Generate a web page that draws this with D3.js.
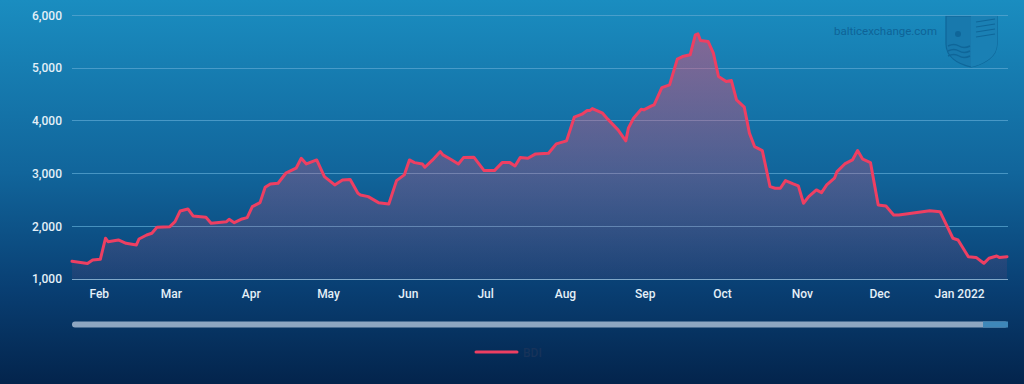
<!DOCTYPE html>
<html>
<head>
<meta charset="utf-8">
<script src="https://cdn.jsdelivr.net/npm/d3@7/dist/d3.min.js"></script>
<style>
  html, body { margin: 0; padding: 0; background: #04284f; }
  svg { display: block; }
</style>
</head>
<body>
<svg id="chart" width="1024" height="384"></svg>
<script>
// ---- Data ----
const dates = [
  "2021-01-22","2021-01-28","2021-01-30","2021-02-02","2021-02-04","2021-02-05","2021-02-09","2021-02-12",
  "2021-02-16","2021-02-17","2021-02-20","2021-02-22","2021-02-24","2021-03-01","2021-03-03","2021-03-05",
  "2021-03-08","2021-03-10","2021-03-15","2021-03-17","2021-03-23","2021-03-24","2021-03-26","2021-03-29",
  "2021-03-31","2021-04-02","2021-04-05","2021-04-07","2021-04-09","2021-04-12","2021-04-15","2021-04-19",
  "2021-04-21","2021-04-23","2021-04-27","2021-04-30","2021-05-04","2021-05-07","2021-05-10","2021-05-13",
  "2021-05-14","2021-05-17","2021-05-21","2021-05-25","2021-05-28","2021-05-31","2021-06-02","2021-06-04",
  "2021-06-07","2021-06-08","2021-06-11","2021-06-14","2021-06-15","2021-06-18","2021-06-21","2021-06-23",
  "2021-06-27","2021-07-01","2021-07-05","2021-07-08","2021-07-11","2021-07-13","2021-07-15","2021-07-18",
  "2021-07-21","2021-07-26","2021-07-29","2021-08-02","2021-08-05","2021-08-08","2021-08-10","2021-08-11",
  "2021-08-12","2021-08-16","2021-08-18","2021-08-22","2021-08-25","2021-08-26","2021-08-28","2021-08-31",
  "2021-09-01","2021-09-04","2021-09-05","2021-09-08","2021-09-11","2021-09-14","2021-09-16","2021-09-19",
  "2021-09-21","2021-09-22","2021-09-23","2021-09-26","2021-09-28","2021-09-30","2021-10-03","2021-10-05",
  "2021-10-07","2021-10-10","2021-10-12","2021-10-14","2021-10-17","2021-10-20","2021-10-22","2021-10-24",
  "2021-10-26","2021-10-29","2021-10-31","2021-11-02","2021-11-04","2021-11-07","2021-11-09","2021-11-11",
  "2021-11-14","2021-11-15","2021-11-18","2021-11-21","2021-11-23","2021-11-25","2021-11-28","2021-12-01",
  "2021-12-04","2021-12-07","2021-12-09","2021-12-21","2021-12-25","2021-12-30","2022-01-01","2022-01-05",
  "2022-01-08","2022-01-11","2022-01-13","2022-01-16","2022-01-17","2022-01-20"
];
const bdi = [
  1330,1290,1355,1368,1767,1702,1734,1672,
  1640,1753,1829,1861,1975,1987,2082,2285,
  2323,2190,2165,2051,2082,2127,2063,2133,
  2158,2366,2442,2734,2797,2810,3000,3095,
  3284,3176,3252,2935,2778,2873,2880,2620,
  2588,2556,2442,2417,2860,2968,3252,3201,
  3176,3113,3252,3410,3347,3266,3176,3296,
  3304,3050,3050,3201,3201,3138,3296,3284,
  3366,3379,3556,3613,4062,4119,4188,4188,
  4226,4138,4025,3822,3613,3854,4043,4214,
  4201,4277,4296,4624,4675,5163,5212,5245,
  5624,5643,5516,5497,5277,4833,4738,4757,
  4391,4252,3760,3505,3429,2746,2715,2715,
  2860,2797,2759,2430,2556,2683,2632,2778,
  2905,3030,3176,3252,3429,3266,3201,2398,
  2379,2209,2209,2290,2271,1767,1734,1417,
  1404,1292,1387,1431,1404,1417
];
const yTicks = [1000, 2000, 3000, 4000, 5000, 6000];
const monthTicks = ["2021-02-01","2021-03-01","2021-04-01","2021-05-01","2021-06-01","2021-07-01",
  "2021-08-01","2021-09-01","2021-10-01","2021-11-01","2021-12-01","2022-01-01"];
const monthLabels = ["Feb","Mar","Apr","May","Jun","Jul","Aug","Sep","Oct","Nov","Dec","Jan 2022"];
const seriesName = "BDI";
const domainStart = "2021-01-22";
const domainEnd = "2022-01-20";

// ---- Setup ----
const parse = d3.utcParse("%Y-%m-%d");
const data = dates.map((d, i) => ({ date: parse(d), value: bdi[i] }));

const W = 1024, H = 384;
const plot = { left: 72, right: 1007, top: 15, bottom: 278.7 };

const svg = d3.select("#chart");
const defs = svg.append("defs");

const bg = defs.append("linearGradient").attr("id", "bg").attr("x1", 0).attr("y1", 0).attr("x2", 0).attr("y2", 1);
bg.append("stop").attr("offset", "0%").attr("stop-color", "#1a8dc0");
bg.append("stop").attr("offset", "45%").attr("stop-color", "#11659b");
bg.append("stop").attr("offset", "75%").attr("stop-color", "#093f73");
bg.append("stop").attr("offset", "100%").attr("stop-color", "#03244c");

const x = d3.scaleUtc().domain([parse(domainStart), parse(domainEnd)]).range([plot.left, plot.right]);
const y = d3.scaleLinear().domain([1000, 6000]).range([plot.bottom, plot.top]);

const areaGrad = defs.append("linearGradient").attr("id", "areaGrad")
  .attr("gradientUnits", "userSpaceOnUse")
  .attr("x1", 0).attr("x2", 0).attr("y1", y(5700)).attr("y2", y(1000));
areaGrad.append("stop").attr("offset", "0%").attr("stop-color", "#f04a72").attr("stop-opacity", 0.5);
areaGrad.append("stop").attr("offset", "100%").attr("stop-color", "#f04a72").attr("stop-opacity", 0.08);

svg.append("rect").attr("width", W).attr("height", H).attr("fill", "url(#bg)");

// Watermark
const wm = svg.append("g").attr("class", "watermark");
wm.append("text").attr("x", 937).attr("y", 35).attr("text-anchor", "end")
  .attr("font-family", "Roboto, 'Open Sans', sans-serif").attr("font-size", 11.5)
  .attr("fill", "#0d5f93").attr("fill-opacity", 0.9).text("balticexchange.com");
wm.append("path")
  .attr("d", "M946,16 L997,16 L997,44 C997,57 984,64 971,67 C958,64 946,57 946,44 Z")
  .attr("fill", "#1879ad").attr("stroke", "#0f6699").attr("stroke-width", 1.2);
wm.append("path")
  .attr("d", "M971,16 L971,67 C984,64 997,57 997,44 L997,16 Z")
  .attr("fill", "#1a80b4");
[46, 51, 56].forEach(yy => {
  wm.append("path").attr("d", `M948,${yy} q6,-3 11,0 t11,0`).attr("fill", "none")
    .attr("stroke", "#0f6699").attr("stroke-width", 1.4);
});
[22, 27, 32, 37].forEach(yy => {
  wm.append("line").attr("x1", 976).attr("x2", 995).attr("y1", yy).attr("y2", yy - 3)
    .attr("stroke", "#0f6699").attr("stroke-width", 1.2);
});
wm.append("circle").attr("cx", 958).attr("cy", 34).attr("r", 3).attr("fill", "#0f6699");

// Grid
svg.append("g").selectAll("line").data(yTicks).join("line")
  .attr("x1", plot.left).attr("x2", plot.right + 1)
  .attr("y1", d => Math.round(y(d)) + 0.5).attr("y2", d => Math.round(y(d)) + 0.5)
  .attr("stroke", d => d === 1000 ? "#8eb3d1" : "#5aa6d0")
  .attr("stroke-opacity", d => d === 1000 ? 0.9 : 0.75)
  .attr("stroke-width", 1);

// Y axis labels
const yAxis = d3.axisLeft(y).tickValues(yTicks).tickFormat(d3.format(",")).tickSize(0).tickPadding(0);
const yg = svg.append("g").attr("transform", `translate(62,0)`).call(yAxis);
yg.select(".domain").remove();
yg.selectAll("text").attr("font-family", "Roboto, 'Open Sans', sans-serif").attr("font-size", 12)
  .attr("font-weight", 500).attr("fill", "#e4f0f8").attr("dy", "0.35em");

// X axis labels
const xAxis = d3.axisBottom(x).tickValues(monthTicks.map(parse))
  .tickFormat((d, i) => monthLabels[i]).tickSize(0).tickPadding(0);
const xg = svg.append("g").attr("transform", `translate(1,298)`).call(xAxis);
xg.select(".domain").remove();
xg.selectAll("text").attr("font-family", "Roboto, 'Open Sans', sans-serif").attr("font-size", 12)
  .attr("font-weight", 500).attr("fill", "#e4f0f8").attr("dy", "0");

// Area + line
const area = d3.area().x(d => x(d.date)).y0(y(1000)).y1(d => y(d.value)).curve(d3.curveLinear);
const line = d3.line().x(d => x(d.date)).y(d => y(d.value)).curve(d3.curveLinear);

svg.append("path").datum(data).attr("d", area).attr("fill", "url(#areaGrad)");
svg.append("path").datum(data).attr("d", line).attr("fill", "none")
  .attr("stroke", "#ee3f62").attr("stroke-width", 3).attr("stroke-linejoin", "round").attr("stroke-linecap", "round");

// Navigator scrollbar
const sb = svg.append("g");
sb.append("rect").attr("x", plot.left).attr("y", 321.5).attr("width", plot.right - plot.left + 1).attr("height", 6)
  .attr("rx", 3).attr("fill", "#8ea6c1");
sb.append("rect").attr("x", 983).attr("y", 321.5).attr("width", plot.right + 1 - 983).attr("height", 6)
  .attr("fill", "#3e87b9");

// Legend
const lg = svg.append("g");
lg.append("line").attr("x1", 476).attr("x2", 517).attr("y1", 352).attr("y2", 352)
  .attr("stroke", "#ee3f62").attr("stroke-width", 3).attr("stroke-linecap", "round");
lg.append("text").attr("x", 523).attr("y", 356.5).attr("font-family", "Roboto, 'Open Sans', sans-serif")
  .attr("font-size", 12).attr("font-weight", 500).attr("fill", "#17335a").text(seriesName);
</script>
</body>
</html>
